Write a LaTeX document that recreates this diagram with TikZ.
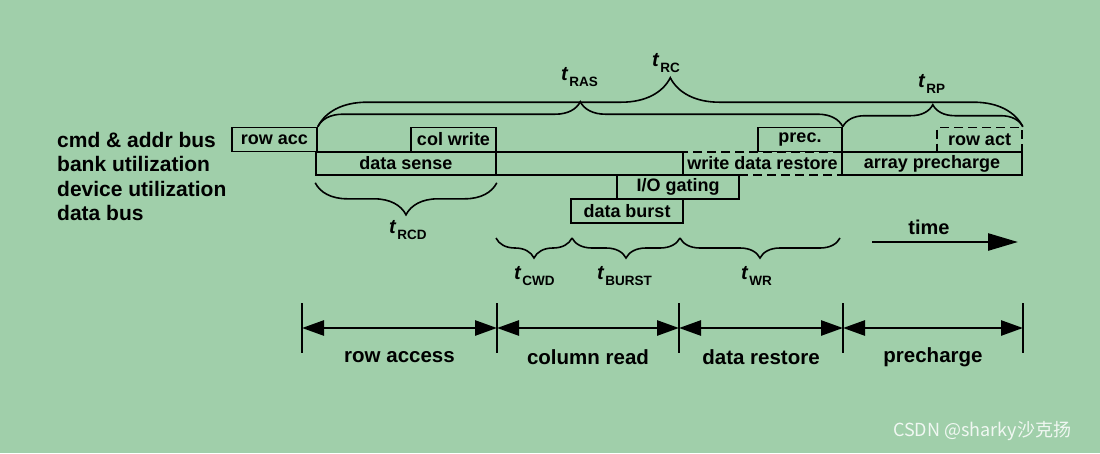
\documentclass[tikz,border=0pt]{standalone}
\usepackage{fontspec}
\setmainfont{Liberation Sans}
\newfontfamily\cjk{Noto Sans CJK SC}
\usetikzlibrary{arrows.meta,decorations.pathreplacing}
\definecolor{bggreen}{RGB}{160,207,170}
\newcommand{\tlab}[1]{{\fontsize{20}{20}\selectfont\itshape t}\hspace{1.5pt}\raisebox{-6pt}{\fontsize{13.5}{13.5}\selectfont #1}}

\begin{document}
\begin{tikzpicture}[x=1pt, y=-1pt,
    slot/.style={draw, line width=1.6pt, inner sep=0pt, minimum height=24pt, font=\fontsize{18}{18}\selectfont\bfseries},
    rowlab/.style={anchor=west, inner sep=0pt, font=\fontsize{21}{21}\selectfont\bfseries},
    tname/.style={anchor=base west, inner sep=0pt, font=\bfseries},
    brc/.style={decorate, decoration={brace, amplitude=#1}, line width=1.6pt},
    tick/.style={line width=2.6pt},
    span/.style={line width=2.6pt, <->, >={Triangle[length=22pt,width=15pt]}},
    phase/.style={inner sep=0pt, yshift=-29pt, font=\fontsize{20.5}{20.5}\selectfont\bfseries}]
  \fill[bggreen] (0,0) rectangle (1100,453);

  % row names
  \node[rowlab] (lcmd) at (57,140) {cmd \& addr bus};
  \node[rowlab] (lbank) at (57,164) {bank utilization};
  \node[rowlab] (ldev) at (57,189) {device utilization};
  \node[rowlab] (ldata) at (57,213) {data bus};

  % cmd & addr bus
  \node[slot, minimum width=85pt] (rowacc) at (274.5,139.5) {row acc};
  \node[slot, minimum width=85pt] (colwrite) at (453.5,139.5) {col write};
  \node[slot, minimum width=84pt] (prec) at (800,139.5) {prec.};
  \node[slot, minimum width=85pt, dash pattern=on 9pt off 5pt] (rowact) at (979.5,139.5) {row act};

  % bank utilization
  \node[slot, minimum width=367pt, minimum height=23pt] (bankbusy) at (499.5,163.5) {};
  \node[slot, minimum width=180pt, minimum height=23pt] (datasense) at (406,163.5) {data sense};
  \node[slot, minimum width=159pt, minimum height=23pt, dash pattern=on 9pt off 5pt] (wrestore) at (762.5,163.5) {write data restore};
  \node[slot, minimum width=180pt, minimum height=23pt] (arrprech) at (932,163.5) {array precharge};

  % device utilization and data bus
  \node[slot, minimum width=122pt] (iogating) at (678,187) {I/O gating};
  \node[slot, minimum width=112pt] (databurst) at (627,211) {data burst};

  % timing braces
  \draw[brc=49pt] (rowacc.north east) -- (rowact.north east);
  \draw[brc=25pt] (rowacc.north east) -- (prec.north east);
  \draw[brc=22pt] (prec.north east) -- (rowact.north east);
  \draw[brc=32pt] ([yshift=-7pt]datasense.south east) -- ([yshift=-7pt]datasense.south west);

  \coordinate (c0) at (496,238);
  \coordinate (c1) at (572,238);
  \coordinate (c2) at (680,238);
  \coordinate (c3) at (840,238);
  \draw[brc=20pt] (c1) -- (c0);
  \draw[brc=20pt] (c2) -- (c1);
  \draw[brc=20pt] (c3) -- (c2);

  \node[tname] (trc) at (652,66) {\tlab{RC}};
  \node[tname] (tras) at (561,80) {\tlab{RAS}};
  \node[tname] (trp) at (918,87) {\tlab{RP}};
  \node[tname] (trcd) at (389,233) {\tlab{RCD}};
  \node[tname] (tcwd) at (514,279) {\tlab{CWD}};
  \node[tname] (tburst) at (597,279) {\tlab{BURST}};
  \node[tname] (twr) at (741,279) {\tlab{WR}};

  % time arrow
  \coordinate (time0) at (872,242);
  \coordinate (time1) at (1018,242);
  \draw[line width=2.6pt, -{Triangle[length=30pt,width=17pt]}] (time0) -- (time1);
  \node[inner sep=0pt, font=\fontsize{20}{20}\selectfont\bfseries] (timelab) at (929,227) {time};

  % phases
  \coordinate (p0) at (302,328);
  \coordinate (p1) at (497,328);
  \coordinate (p2) at (679,328);
  \coordinate (p3) at (843,328);
  \coordinate (p4) at (1023,328);
  \foreach \p in {p0,p1,p2,p3,p4}
    \draw[tick] ([yshift=25pt]\p) -- ([yshift=-25pt]\p);
  \draw[span] (p0) -- node[phase] (lrowaccess) {row access} (p1);
  \draw[span] (p1) -- node[phase] (lcolread) {column read} (p2);
  \draw[span] (p2) -- node[phase] (lrestore) {data restore} (p3);
  \draw[span] (p3) -- node[phase] (lprech) {precharge} (p4);

  \node[anchor=west, inner sep=0pt, text=white, opacity=0.85, font=\cjk\fontsize{18}{18}\selectfont] (mark) at (893,431) {CSDN @sharky沙克扬};
\end{tikzpicture}
\end{document}
